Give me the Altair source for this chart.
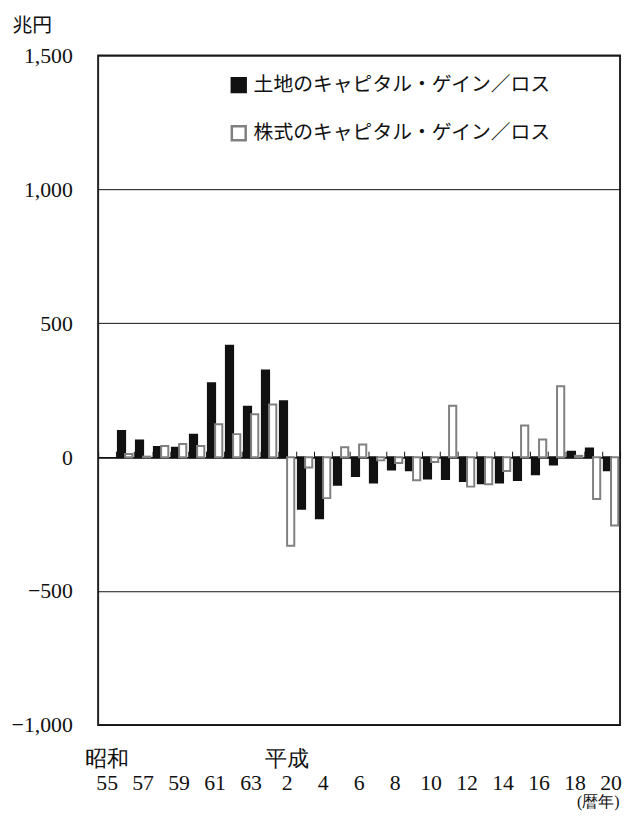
import altair as alt
import pandas as pd

# ---- data (兆円) ----
years = list(range(1980, 2009))
era_labels = ["55", "56", "57", "58", "59", "60", "61", "62", "63",
              "1", "2", "3", "4", "5", "6", "7", "8", "9", "10",
              "11", "12", "13", "14", "15", "16", "17", "18", "19", "20"]
land = [None, 98, 62, 38, 35, 84, 276, 416, 188, 324, 209, -193, -228, -103, -70,
        -95, -46, -49, -80, -82, -89, -97, -95, -85, -64, -27, 20, 32, -49]
stock = [None, 12, 2, 42, 49, 42, 123, 86, 160, 197, -331, -39, -153, 37, 47,
         -12, -22, -86, -18, 192, -110, -101, -52, 118, 66, 265, 5, -156, -255]
series_names = ["土地のキャピタル・ゲイン／ロス", "株式のキャピタル・ゲイン／ロス"]
era_names = ["昭和", "平成"]
shown_labels = era_labels[::2]
y_ticks = [-1000, -500, 0, 500, 1000, 1500]

rows = []
for lab, a, b in zip(era_labels, land, stock):
    rows.append({"label": lab, "series": series_names[0], "value": a})
    rows.append({"label": lab, "series": series_names[1], "value": b})
df = pd.DataFrame(rows)

NUM_FONT = "Liberation Serif"
JP_FONT = "Noto Sans CJK JP"

W, H = 527, 676

others = ",".join("'%s'" % s for s in shown_labels if s not in ("55", "2"))
label_expr = (
    "datum.label == '55' ? ['%s', '55'] : datum.label == '2' ? ['%s', '2'] : "
    "indexof([%s], datum.label) >= 0 ? [' ', datum.label] : ''"
) % (era_names[0], era_names[1], others)

xscale = alt.Scale(domain=era_labels, paddingInner=0, paddingOuter=0)
yscale = alt.Scale(domain=[-1000, 1500], nice=False)

legend = alt.Legend(
    title=None, orient="none", legendX=132, legendY=20, direction="vertical",
    symbolType="square", symbolSize=196, symbolStrokeWidth=2.5,
    labelFont=JP_FONT, labelFontSize=20, labelColor="#111", labelOffset=5,
    rowPadding=24.5, labelLimit=400,
)

bars = alt.Chart(df).mark_bar(strokeWidth=2).encode(
    x=alt.X("label:O", sort=era_labels, scale=xscale,
            axis=alt.Axis(orient="bottom", title="(暦年)", domain=False, ticks=False,
                          labelExpr=label_expr, labelAngle=0, labelOverlap=False,
                          labelFont=NUM_FONT, labelFontSize=22, labelColor="#111",
                          labelPadding=24, labelLineHeight=24, labelBaseline="top",
                          titleFont=NUM_FONT, titleFontSize=16, titleFontWeight="normal",
                          titleColor="#111", titleX=W - 1, titleY=77, titleAlign="right",
                          titleBaseline="middle")),
    xOffset=alt.XOffset("series:N", sort=series_names,
                        scale=alt.Scale(domain=series_names, paddingInner=0, paddingOuter=0.25)),
    y=alt.Y("value:Q", scale=yscale,
            axis=alt.Axis(values=y_ticks, labelExpr="format(datum.value, ',')",
                          domain=False, ticks=False,
                          grid=True, gridColor="#111", gridWidth=1,
                          labelFont=NUM_FONT, labelFontSize=22, labelColor="#111",
                          labelPadding=26,
                          title="兆円", titleAngle=0, titleFont=JP_FONT, titleFontSize=20,
                          titleFontWeight="normal", titleColor="#111", titleX=-87, titleY=-30,
                          titleAlign="left", titleBaseline="middle")),
    fill=alt.Fill("series:N", sort=series_names,
                  scale=alt.Scale(domain=series_names, range=["#111111", "#ffffff"]),
                  legend=legend),
    stroke=alt.Stroke("series:N", sort=series_names,
                      scale=alt.Scale(domain=series_names, range=["#111111", "#808080"]),
                      legend=legend),
)

zero_axis = alt.Chart(df).mark_point(opacity=0).encode(
    x=alt.X("label:O", sort=era_labels, scale=xscale,
            axis=alt.Axis(orient="top", offset=-(H * 0.6), title=None, labels=False,
                          domainColor="#111", domainWidth=1.5, tickColor="#111",
                          tickWidth=1, tickSize=6, tickBand="extent", grid=False)),
    y=alt.value(0),
)

chart = alt.layer(bars, zero_axis).resolve_axis(x="independent").properties(
    width=W, height=H,
    background="white",
    autosize=alt.AutoSizeParams(type="none"),
    padding={"left": 91, "top": 44, "right": 4, "bottom": 88},
).configure_view(stroke="#222", strokeWidth=2)

chart.save("out.html", embed_options={"renderer": "svg", "actions": False})
